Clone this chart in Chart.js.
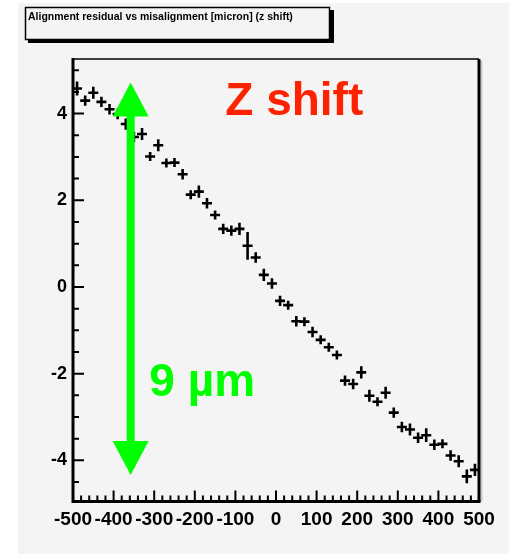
<!DOCTYPE html>
<html>
<head>
<meta charset="utf-8">
<script src="https://cdn.jsdelivr.net/npm/chart.js@4.4.1/dist/chart.umd.min.js"></script>
<style>
html, body { margin: 0; padding: 0; background: #ffffff; }
#wrap { width: 509px; height: 554px; position: relative; }
</style>
</head>
<body>
<div id="wrap"><canvas id="chart"></canvas></div>
<script>
// misalignment (bin centres) [micron]
let misalign = [-490, -470, -450, -430, -410, -390, -370, -350, -330, -310,
                -290, -270, -250, -230, -210, -190, -170, -150, -130, -110,
                -90, -70, -50, -30, -10, 10, 30, 50, 70, 90,
                110, 130, 150, 170, 190, 210, 230, 250, 270, 290,
                310, 330, 350, 370, 390, 410, 430, 450, 470, 490];
// alignment residual [micron]
let residual = [4.58, 4.30, 4.48, 4.27, 4.10, 3.99, 3.76, 3.46, 3.53, 3.01,
                3.27, 2.86, 2.87, 2.60, 2.13, 2.20, 1.93, 1.66, 1.34, 1.30,
                1.34, 0.95, 0.68, 0.28, 0.08, -0.32, -0.42, -0.79, -0.80, -1.04,
                -1.22, -1.39, -1.57, -2.16, -2.24, -1.97, -2.51, -2.65, -2.44, -2.90,
                -3.23, -3.29, -3.48, -3.42, -3.64, -3.62, -3.89, -4.02, -4.37, -4.22];
let residualErr = [0.16, 0.12, 0.14, 0.12, 0.12, 0.12, 0.13, 0.12, 0.14, 0.09,
                   0.14, 0.09, 0.09, 0.12, 0.09, 0.14, 0.12, 0.07, 0.12, 0.12,
                   0.14, 0.32, 0.12, 0.14, 0.12, 0.12, 0.09, 0.12, 0.07, 0.12,
                   0.09, 0.09, 0.09, 0.12, 0.12, 0.14, 0.14, 0.09, 0.14, 0.12,
                   0.12, 0.14, 0.12, 0.16, 0.12, 0.09, 0.12, 0.14, 0.16, 0.14];
let binHalf = 10;
let xTicks = [-500, -400, -300, -200, -100, 0, 100, 200, 300, 400, 500];
let yTicks = [-4, -2, 0, 2, 4];

let titleText = "Alignment residual vs misalignment [micron] (z shift)";
let FONT = "'Liberation Sans', Arial, Helvetica, sans-serif";
let bg = "#f4f4f4";

// background panel + title box
let panelPlugin = {
    id: "panel",
    beforeDraw(chart) {
        let c = chart.ctx;
        c.save();
        c.fillStyle = "#ffffff";
        c.fillRect(0, 0, chart.width, chart.height);
        c.fillStyle = bg;
        c.fillRect(18, 3, chart.width - 18, chart.height - 3);
        // title box with shadow
        c.fillStyle = "#000";
        c.fillRect(28, 10, 306, 33);
        c.fillStyle = bg;
        c.fillRect(25, 7, 305, 33);
        c.strokeStyle = "#000";
        c.lineWidth = 1.5;
        c.strokeRect(25.5, 7.5, 304, 32);
        c.fillStyle = "#000";
        c.font = "bold 10.5px " + FONT;
        c.textBaseline = "middle";
        c.fillText(titleText, 28, 17);
        c.restore();
    }
};

// error crosses, frame, inner ticks, annotations
let rootPlugin = {
    id: "rootStyle",
    afterDatasetsDraw(chart) {
        let c = chart.ctx;
        let xs = chart.scales.x, ys = chart.scales.y;
        let a = chart.chartArea;
        c.save();

        // data crosses (error bars + plus marker)
        c.strokeStyle = "#000";
        c.lineWidth = 2.6;
        c.beginPath();
        for (let i = 0; i < misalign.length; i++) {
            let px = xs.getPixelForValue(misalign[i]);
            let py = ys.getPixelForValue(residual[i]);
            let x0 = Math.min(xs.getPixelForValue(misalign[i] - binHalf), px - 5);
            let x1 = Math.max(xs.getPixelForValue(misalign[i] + binHalf), px + 5);
            c.moveTo(x0, py);
            c.lineTo(x1, py);
            let y0 = Math.min(ys.getPixelForValue(residual[i] + residualErr[i]), py - 4.5);
            let y1 = Math.max(ys.getPixelForValue(residual[i] - residualErr[i]), py + 4.5);
            c.moveTo(px, y0);
            c.lineTo(px, y1);
        }
        c.stroke();

        // ticks (inside the frame)
        c.lineWidth = 2;
        c.beginPath();
        for (let v = -500; v <= 500; v += 20) {
            let px = xs.getPixelForValue(v);
            let len = (v % 100 === 0) ? 11 : 6;
            c.moveTo(px, a.bottom);
            c.lineTo(px, a.bottom - len);
        }
        for (let v = -4.5; v <= 5; v += 0.5) {
            let py = ys.getPixelForValue(v);
            let len = (v % 2 === 0) ? 11 : 6;
            c.moveTo(a.left, py);
            c.lineTo(a.left + len, py);
        }
        c.stroke();

        // frame
        c.strokeStyle = "#c8c8c8";
        c.lineWidth = 2;
        c.beginPath();
        c.moveTo(a.right + 2.5, a.top + 2);
        c.lineTo(a.right + 2.5, a.bottom);
        c.stroke();
        c.strokeStyle = "#000";
        c.lineWidth = 1.7;
        c.beginPath();
        c.moveTo(a.left, a.top);
        c.lineTo(a.right, a.top);
        c.stroke();
        c.lineWidth = 3;
        c.beginPath();
        c.moveTo(a.right, a.top);
        c.lineTo(a.right, a.bottom);
        c.stroke();
        c.beginPath();
        c.moveTo(a.left, a.top - 1);
        c.lineTo(a.left, a.bottom);
        c.lineTo(a.right + 1.5, a.bottom);
        c.stroke();

        // green double arrow
        let ax = xs.getPixelForValue(-358);
        let yTop = ys.getPixelForValue(4.72);
        let yBot = ys.getPixelForValue(-4.34);
        let headH = 34, headW = 18;
        c.fillStyle = "#00ff00";
        c.fillRect(ax - 4, yTop + headH - 1, 8, (yBot - headH) - (yTop + headH) + 2);
        c.beginPath();
        c.moveTo(ax, yTop);
        c.lineTo(ax + headW, yTop + headH);
        c.lineTo(ax - headW, yTop + headH);
        c.closePath();
        c.fill();
        c.beginPath();
        c.moveTo(ax, yBot);
        c.lineTo(ax + headW, yBot - headH);
        c.lineTo(ax - headW, yBot - headH);
        c.closePath();
        c.fill();

        // text annotations
        c.font = "bold 46px " + FONT;
        c.textBaseline = "alphabetic";
        c.fillStyle = "#ff2200";
        c.fillText("Z shift", xs.getPixelForValue(-125), ys.getPixelForValue(3.97));
        c.fillStyle = "#00ff00";
        c.fillText("9 \u00b5m", xs.getPixelForValue(-312), ys.getPixelForValue(-2.51));

        c.restore();
    }
};

let ctx = document.getElementById("chart").getContext("2d");
let chart = new Chart(ctx, {
    type: "scatter",
    data: {
        datasets: [{
            label: "residual",
            data: misalign.map((x, i) => ({ x: x, y: residual[i] })),
            pointRadius: 0,
            showLine: false
        }]
    },
    options: {
        responsive: true,
        maintainAspectRatio: false,
        animation: false,
        layout: { padding: { left: 0, top: 59, right: 30, bottom: 0 } },
        plugins: {
            legend: { display: false },
            tooltip: { enabled: false }
        },
        scales: {
            x: {
                type: "linear",
                min: -500,
                max: 500,
                grid: { display: false, drawTicks: false },
                border: { display: false },
                afterBuildTicks: s => { s.ticks = xTicks.map(v => ({ value: v })); },
                afterFit: s => { s.height = 52.5; },
                ticks: {
                    autoSkip: false,
                    maxRotation: 0,
                    padding: 7,
                    color: "#000",
                    font: { family: FONT, size: 19, weight: "bold" },
                    callback: v => String(v)
                }
            },
            y: {
                type: "linear",
                min: -4.95,
                max: 5.26,
                grid: { display: false, drawTicks: false },
                border: { display: false },
                afterBuildTicks: s => { s.ticks = yTicks.map(v => ({ value: v })); },
                afterFit: s => { s.width = 73; },
                ticks: {
                    padding: 6,
                    color: "#000",
                    font: { family: FONT, size: 18, weight: "bold" },
                    callback: v => String(v)
                }
            }
        }
    },
    plugins: [panelPlugin, rootPlugin]
});
</script>
</body>
</html>
